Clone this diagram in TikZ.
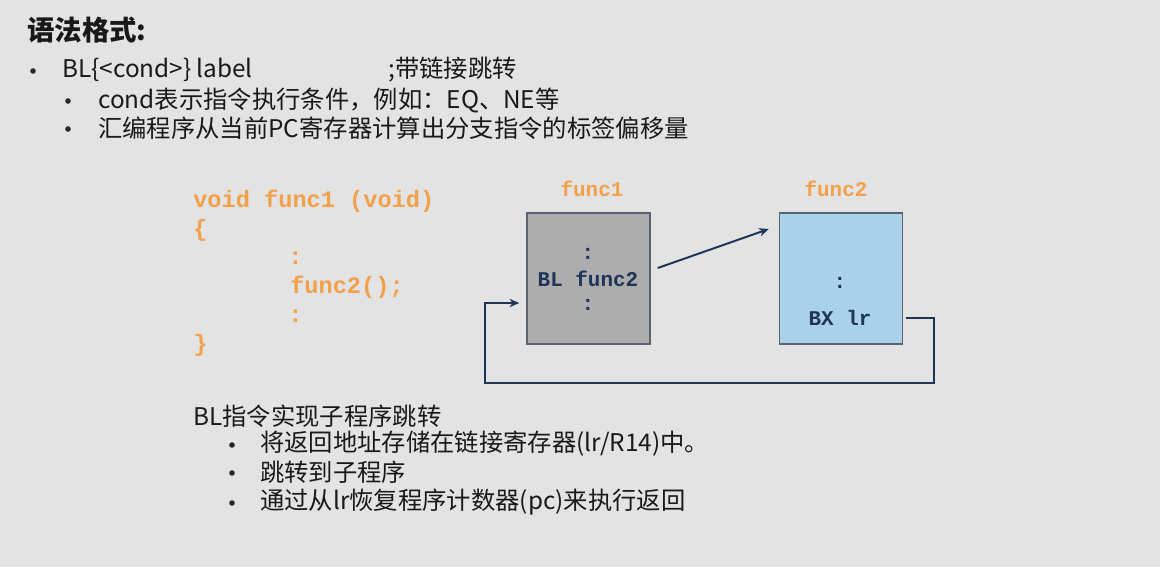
\documentclass[tikz,border=0pt]{standalone}
\usepackage{fontspec}
\setmainfont{Noto Sans CJK SC}
\setmonofont{Liberation Mono}
\usepackage{tikz}
\usetikzlibrary{positioning,arrows.meta}
\usepackage{xcolor}

\definecolor{slidebg}{HTML}{E3E3E3}
\definecolor{codeorange}{HTML}{F2A14A}
\definecolor{linenavy}{HTML}{1F3557}
\definecolor{boxgray}{HTML}{ADADAD}
\definecolor{boxblue}{HTML}{A9D1E7}
\definecolor{edgegray}{HTML}{5A6272}

\tikzset{
  txt/.style={anchor=west, inner sep=0pt, text=black!90, font=\fontsize{17.3}{20}\selectfont},
  dot/.style={circle, fill=black!85, inner sep=0pt, minimum size=0.14cm},
  code/.style={anchor=west, inner sep=0pt, text=codeorange, font=\ttfamily\bfseries\fontsize{16.8}{20}\selectfont},
  asm/.style={inner sep=0pt, text=linenavy, font=\ttfamily\bfseries\fontsize{14.9}{18}\selectfont},
  fbox/.style={draw=edgegray, line width=1pt, minimum width=3.075cm, minimum height=3.275cm, inner sep=0pt},
  flow/.style={draw=linenavy, line width=1.4pt, -{Stealth[length=7pt,width=6pt]}},
}

\begin{document}
\begin{tikzpicture}[x=0.025cm, y=-0.025cm]
        % Background
        \fill[slidebg] (0,0) rectangle (1160,567);
        \useasboundingbox (0,0) rectangle (1160,567);

        % Heading and syntax
        \node[txt, font=\bfseries\fontsize{19.5}{22}\selectfont] (title) at (27,30) {语法格式:};
        \node[dot] (d1) at (33,71) {};
        \node[txt] (syn) at (62,70) {BL\{<cond>\} label};
        \node[txt] (syncmt) at (388,70) {;带链接跳转};
        \node[dot] (d2) at (68,101) {};
        \node[txt] (cond) at (98,100) {cond表示指令执行条件，例如：EQ、NE等};
        \node[dot] (d3) at (68,129) {};
        \node[txt] (offs) at (98,128) {汇编程序从当前PC寄存器计算出分支指令的标签偏移量};

        % C source
        \node[code] (c1) at (193,201) {void func1 (void)};
        \node[code] (c2) at (193,230) {\{};
        \node[code] (c3) at (288,258) {:};
        \node[code] (c4) at (290,287) {func2();};
        \node[code] (c5) at (288,316) {:};
        \node[code] (c6) at (193,345) {\}};

        % Function boxes
        \node[fbox, fill=boxgray] (box1) at (588.5,278.5) {};
        \node[fbox, fill=boxblue] (box2) at (841,278.5) {};
        \node[asm, text=codeorange] (name1) at (592,189) {func1};
        \node[asm, text=codeorange] (name2) at (836,189) {func2};
        \node[asm] (b1top) at (588,254) {:};
        \node[asm] (bl) at (588,279) {BL func2};
        \node[asm] (b1bot) at (588,305) {:};
        \node[asm] (b2top) at (840,283) {:};
        \node[asm] (bx) at (840,318) {BX lr};

        % Call and return
        \coordinate (retR) at (934,383);
        \coordinate (retL) at (485,383);
        \draw[flow] ([shift={(7,-10.5)}]box1.east) -- ([shift={(-10,-49.5)}]box2.west);
        \draw[flow] (box2.east |- bx) ++(3,0) -| (retR) -- (retL) |- ([shift={(-7,24.5)}]box1.west);

        % Notes
        \node[txt] (note) at (193,416) {BL指令实现子程序跳转};
        \node[dot] (d4) at (232,445) {};
        \node[txt] (n1) at (260,444) {将返回地址存储在链接寄存器(lr/R14)中。};
        \node[dot] (d5) at (232,473) {};
        \node[txt] (n2) at (260,472) {跳转到子程序};
        \node[dot] (d6) at (232,503) {};
        \node[txt] (n3) at (260,502) {通过从lr恢复程序计数器(pc)来执行返回};
    \end{tikzpicture}
\end{document}
